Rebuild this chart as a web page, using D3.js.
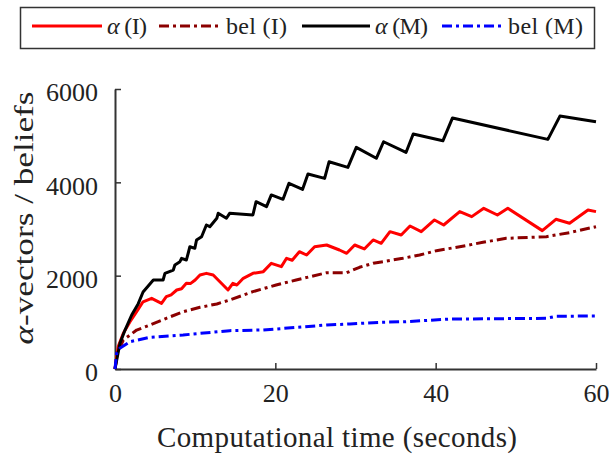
<!DOCTYPE html>
<html>
<head>
<meta charset="utf-8">
<script src="https://cdn.jsdelivr.net/npm/d3@7"></script>
<style>
  body { margin: 0; background: #fff; }
  svg { font-family: "Liberation Serif", "Times New Roman", serif; }
</style>
</head>
<body>
<div id="chart"></div>
<script>
// series: [seconds, count]
const alphaI = [[0,0],[0.4,480],[1.04,765],[1.87,1013],[2.7,1228],[3.5,1440],[4.57,1515],[5.8,1407],[6.4,1550],[7,1590],[7.7,1693],[8.3,1720],[8.9,1836],[9.4,1830],[10,1907],[10.6,2014],[11.4,2050],[12.25,2014],[14.1,1693],[14.7,1836],[15.2,1800],[16,1943],[17.2,2050],[18.5,2086],[19.5,2265],[20.75,2193],[21.4,2372],[22.1,2330],[23,2514],[23.9,2443],[24.9,2620],[26.4,2657],[28,2550],[28.9,2479],[29.9,2657],[31.1,2572],[32.2,2765],[33.2,2693],[34.3,2943],[35.7,2872],[36.8,3065],[38.2,2943],[39.85,3193],[41,3086],[43,3372],[44.5,3265],[46,3443],[47.7,3300],[49,3443],[53.3,2965],[55,3208],[56.7,3122],[59,3407],[60,3372]];
const belI = [[0,0],[0.3,350],[1.04,620],[2.7,835],[4.36,943],[6.4,1086],[8.5,1228],[10.6,1322],[12.7,1393],[14.3,1479],[17.2,1657],[20.1,1800],[22.6,1907],[26.4,2064],[28.9,2064],[30.5,2179],[32.2,2265],[35.9,2372],[38,2443],[40.1,2536],[43,2620],[45.9,2715],[48.8,2800],[53.8,2836],[56.7,2922],[60,3050]];
const alphaM = [[0,0],[0.62,550],[1.25,835],[2.08,1157],[2.9,1400],[3.5,1650],[4.78,1907],[6,1907],[6.23,2050],[7.27,2121],[7.47,2230],[8.1,2300],[8.3,2370],[8.9,2335],[9.13,2480],[9.34,2620],[9.96,2586],[10.17,2765],[10.8,2835],[11.4,3086],[11.83,3050],[12.7,3230],[12.87,3336],[13.9,3230],[14.3,3336],[17.2,3300],[17.6,3586],[18.9,3480],[19.5,3730],[20.96,3636],[21.7,3980],[23.4,3850],[24.07,4180],[26.15,4085],[26.7,4440],[29.05,4320],[30.1,4750],[32.6,4515],[33.5,4870],[36.3,4640],[37.2,5035],[40.9,4890],[42.1,5380],[54,4920],[55.5,5420],[60,5300]];
const belM = [[0,0],[0.2,336],[0.6,443],[1.87,585],[4.36,679],[8.5,729],[14.3,822],[18.5,836],[26.4,943],[29.3,965],[33,1000],[36.3,1014],[41.7,1070],[53.8,1086],[55,1130],[60,1136]];

const seriesNames = ["α (I)", "bel (I)", "α (M)", "bel (M)"];
const xTicks = [0, 20, 40, 60];
const yTicks = [0, 2000, 4000, 6000];

const series = [
  {name: seriesNames[0], values: alphaI, color: "#ff0000", dash: null},
  {name: seriesNames[1], values: belI, color: "#8b0000", dash: "10,4,3,4"},
  {name: seriesNames[2], values: alphaM, color: "#000000", dash: null},
  {name: seriesNames[3], values: belM, color: "#0000ff", dash: "10,4,3,4"}
];

const width = 613, height = 457;
const svg = d3.select("#chart").append("svg")
  .attr("width", width)
  .attr("height", height);

const x = d3.scaleLinear().domain([0, 60]).range([115, 596]);
const y = d3.scaleLinear().domain([0, 6000]).range([369, 89]);

const axisColor = "#333";

// axes (ticks point inwards)
const xAxis = svg.append("g")
  .attr("transform", `translate(0,${y(0)})`)
  .call(d3.axisBottom(x).tickValues(xTicks).tickFormat(d3.format("d"))
    .tickSize(-6).tickPadding(15).tickSizeOuter(0));
const yAxis = svg.append("g")
  .attr("transform", `translate(${x(0)},0)`)
  .call(d3.axisLeft(y).tickValues(yTicks).tickFormat(d3.format("d"))
    .tickSize(-6).tickPadding(17).tickSizeOuter(0));

[xAxis, yAxis].forEach(g => {
  g.select(".domain").attr("stroke", axisColor).attr("stroke-width", 2);
  g.selectAll(".tick line").attr("stroke", axisColor).attr("stroke-width", 1.5);
  g.selectAll("text")
    .attr("fill", "#222")
    .style("font-family", "'Liberation Serif', serif")
    .style("font-size", "26px");
});
xAxis.selectAll("text").attr("dy", "0.71em");
yAxis.selectAll("text").attr("dy", "0.45em");

const line = d3.line().x(d => x(d[0])).y(d => y(d[1]));

svg.append("g").selectAll("path")
  .data(series)
  .enter()
  .append("path")
  .attr("d", d => line(d.values))
  .attr("fill", "none")
  .attr("stroke", d => d.color)
  .attr("stroke-width", 3)
  .attr("stroke-linejoin", "round")
  .attr("stroke-dasharray", d => d.dash);

// axis titles
svg.append("text")
  .attr("x", 337)
  .attr("y", 447)
  .attr("text-anchor", "middle")
  .attr("fill", "#222")
  .attr("textLength", 360)
  .attr("lengthAdjust", "spacing")
  .style("font-size", "29px")
  .text("Computational time (seconds)");

svg.append("text")
  .attr("transform", "translate(33,218) rotate(-90)")
  .attr("text-anchor", "middle")
  .attr("fill", "#222")
  .attr("textLength", 253)
  .attr("lengthAdjust", "spacingAndGlyphs")
  .style("font-size", "27px")
  .html('<tspan font-style="italic">α</tspan>-vectors / beliefs');

// legend
const legend = svg.append("g");
legend.append("rect")
  .attr("x", 20.5).attr("y", 7.5)
  .attr("width", 574).attr("height", 41)
  .attr("fill", "#fff")
  .attr("stroke", axisColor)
  .attr("stroke-width", 1.5);

const legendX = [32, 159, 302, 442];
const lineLen = [70, 62, 68, 61];
const textW = [40, 61, 53, 75];
const item = legend.selectAll("g.item")
  .data(series)
  .enter()
  .append("g")
  .attr("class", "item")
  .attr("transform", (d, i) => `translate(${legendX[i]},26)`);

item.append("line")
  .attr("x1", 0).attr("x2", (d, i) => lineLen[i])
  .attr("stroke", d => d.color)
  .attr("stroke-width", 3)
  .attr("stroke-dasharray", d => d.dash);

item.append("text")
  .attr("x", (d, i) => lineLen[i] + 5)
  .attr("y", 8)
  .attr("fill", "#222")
  .attr("textLength", (d, i) => textW[i])
  .attr("lengthAdjust", "spacing")
  .style("font-size", "24px")
  .html(d => d.name.startsWith("α")
    ? `<tspan font-style="italic">α</tspan>${d.name.slice(1)}`
    : d.name);
</script>
</body>
</html>
